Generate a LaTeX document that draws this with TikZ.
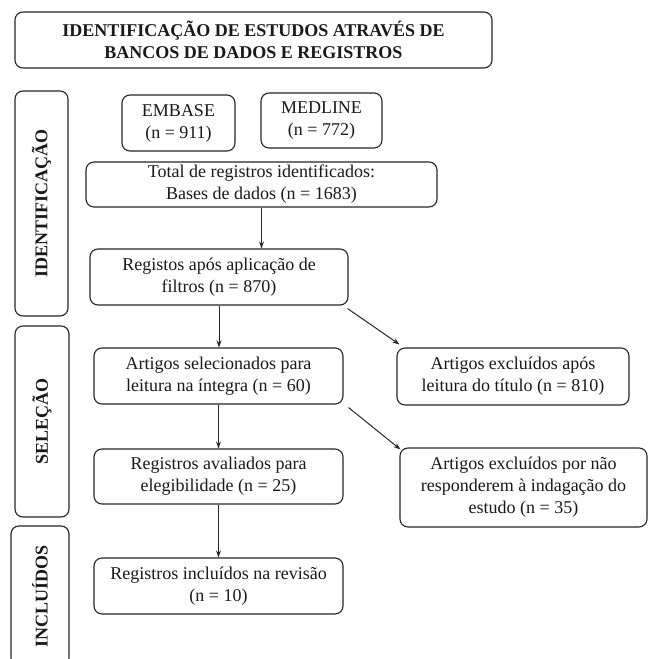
\documentclass[tikz,border=0pt]{standalone}
\usepackage{fontspec}
\setmainfont{Liberation Serif}
\usetikzlibrary{arrows.meta}
\tikzset{
  box/.style={draw=black!85, line width=1.1pt, rounded corners=8pt, inner sep=0pt,
    align=center, font=\fontsize{18}{22}\selectfont, text=black!90},
  sidebox/.style={box, rotate=90, font=\fontsize{18}{22}\selectfont\bfseries},
  arr/.style={draw=black!85, line width=1pt, -{Stealth[length=7pt,width=5pt]}}
}
\begin{document}
\begin{tikzpicture}[x=1pt,y=-1pt]
\clip (0,0) rectangle (648,659);
\fill[white] (0,0) rectangle (648,659);
% title
\node[box, font=\fontsize{18}{22}\selectfont\bfseries, minimum width=477pt, minimum height=56pt]
  (title) at (253.5,40) {IDENTIFICAÇÃO DE ESTUDOS ATRAVÉS DE\\BANCOS DE DADOS E REGISTROS};
% side boxes
\node[sidebox, minimum width=225pt, minimum height=53pt] (sid) at (41.5,203.5) {IDENTIFICAÇÃO};
\node[sidebox, minimum width=191pt, minimum height=54pt] (ssel) at (42,421.5) {SELEÇÃO};
\node[sidebox, minimum width=140pt, minimum height=58pt] (sinc) at (40,596) {INCLUÍDOS};
% main boxes
\node[box, minimum width=113pt, minimum height=56pt] (embase) at (178.5,123) {EMBASE\\(n = 911)};
\node[box, minimum width=121pt, minimum height=55pt] (medline) at (321.5,120.5) {MEDLINE\\(n = 772)};
\node[box, minimum width=351pt, minimum height=45pt] (total) at (261.5,184.5) {Total de registros identificados:\\Bases de dados (n = 1683)};
\node[box, minimum width=258pt, minimum height=56pt] (filt) at (219,277) {Registos após aplicação de\\filtros (n = 870)};
\node[box, minimum width=249pt, minimum height=56pt] (sel) at (218.5,376) {Artigos selecionados para\\leitura na íntegra (n = 60)};
\node[box, minimum width=232pt, minimum height=57pt] (exc1) at (513,376.5) {Artigos excluídos após\\leitura do título (n = 810)};
\node[box, minimum width=249pt, minimum height=55pt] (aval) at (218.5,476.5) {Registros avaliados para\\elegibilidade (n = 25)};
\node[box, minimum width=247pt, minimum height=79pt] (exc2) at (523.5,487.5) {Artigos excluídos por não\\responderem à indagação do\\estudo (n = 35)};
\node[box, minimum width=249pt, minimum height=56pt] (incl) at (218.5,586) {Registros incluídos na revisão\\(n = 10)};
% arrows
\draw[arr] (total.south) -- (total.south |- filt.north);
\draw[arr] (filt.south) -- (filt.south |- sel.north);
\draw[arr] (sel.south) -- (sel.south |- aval.north);
\draw[arr] (aval.south) -- (aval.south |- incl.north);
\draw[arr] ([shift={(-1,3)}]filt.south east) -- ([shift={(3,-3)}]exc1.north west);
\draw[arr] ([shift={(5,3)}]sel.south east) -- ([shift={(1,2)}]exc2.north west);
\end{tikzpicture}
\end{document}
